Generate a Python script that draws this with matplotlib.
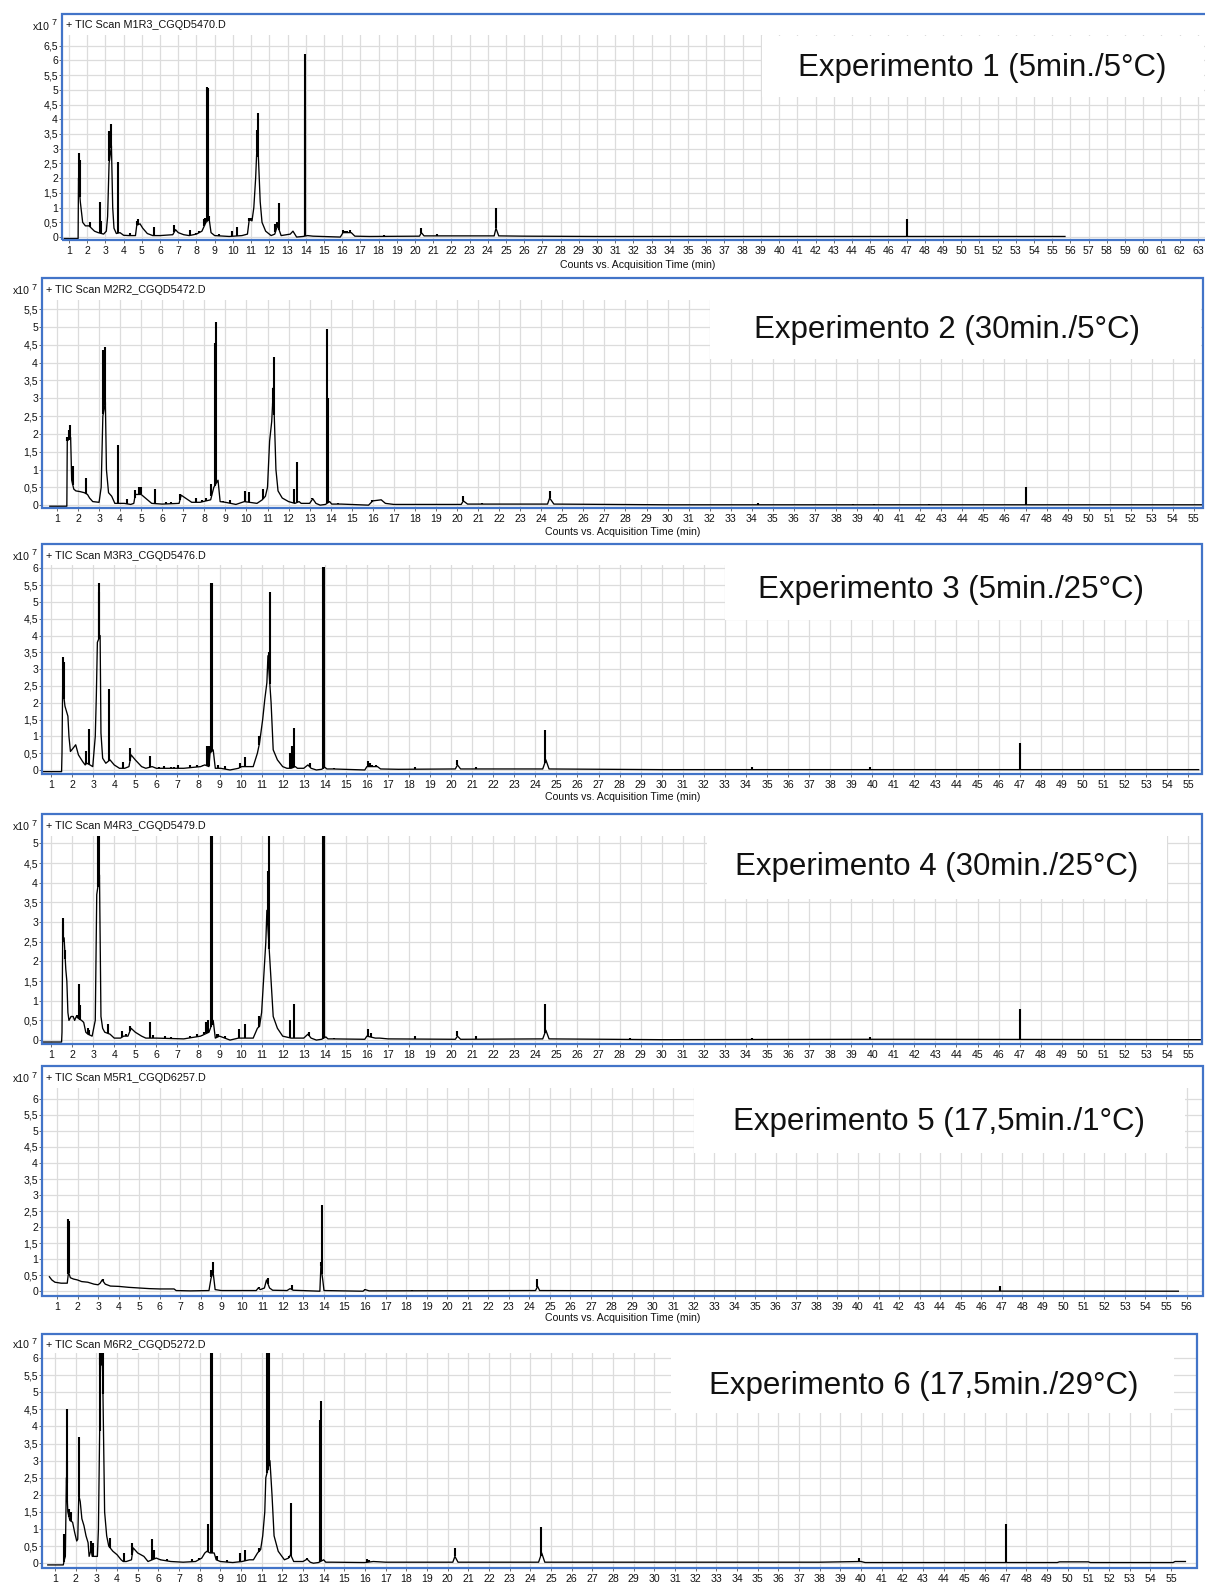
"""
Six TIC chromatograms (Experimento 1-6) stacked, instrument-report style.
"""

import numpy as np
import matplotlib.pyplot as plt
from matplotlib.patches import Rectangle

plt.rcParams['font.family'] = ['Liberation Sans', 'DejaVu Sans']

W, H = 1205, 1583

# ---------------------------------------------------------------- data
# counts in units of 1e7, time in min
scan_names = ['+ TIC Scan M1R3_CGQD5470.D', '+ TIC Scan M2R2_CGQD5472.D',
              '+ TIC Scan M3R3_CGQD5476.D', '+ TIC Scan M4R3_CGQD5479.D',
              '+ TIC Scan M5R1_CGQD6257.D', '+ TIC Scan M6R2_CGQD5272.D']
exp_labels = ['Experimento 1 (5min./5°C)', 'Experimento 2 (30min./5°C)',
              'Experimento 3 (5min./25°C)', 'Experimento 4 (30min./25°C)',
              'Experimento 5 (17,5min./1°C)', 'Experimento 6 (17,5min./29°C)']
y_tick_max = [6.5, 5.5, 6.0, 5.0, 6.0, 6.0]
x_tick_max = [63, 55, 55, 55, 56, 55]

# smooth envelope of each trace (time, counts)
profile1 = [(0.74, -0.05), (1.50, -0.05), (1.52, 2.0), (1.62, 1.2), (1.75, 0.5), (1.9, 0.38),
            (2.1, 0.38), (2.4, 0.2), (2.6, 0.15), (2.9, 0.1), (3.05, 0.2), (3.12, 0.7), (3.2, 2.5),
            (3.33, 3.1), (3.4, 1.0), (3.47, 0.3), (3.6, 0.12), (3.8, 0.15), (4.0, 0.06), (4.3, 0.05),
            (4.65, 0.05), (4.72, 0.4), (4.9, 0.45), (5.05, 0.3), (5.3, 0.12), (5.6, 0.05), (6.0, 0.05),
            (6.7, 0.08), (6.85, 0.25), (7.0, 0.15), (7.3, 0.08), (7.6, 0.05), (8.0, 0.1), (8.3, 0.2),
            (8.52, 0.5), (8.7, 0.6), (8.8, 0.15), (9.0, 0.05), (9.8, 0.02), (10.5, 0.05), (10.8, 0.1),
            (10.9, 0.6), (11.05, 0.55), (11.15, 1.0), (11.25, 2.0), (11.35, 3.5), (11.5, 1.2),
            (11.6, 0.5), (11.8, 0.2), (12.1, 0.05), (12.3, 0.1), (12.45, 0.4), (12.65, 0.05),
            (13.15, 0.1), (13.3, 0.2), (13.5, 0.0), (13.85, 0.02), (14.1, 0.05), (14.4, 0.03),
            (15.9, 0.0), (16.05, 0.15), (16.5, 0.15), (16.7, 0.03), (17.5, 0.02), (20.25, 0.03),
            (20.35, 0.15), (20.5, 0.04), (24.35, 0.04), (24.45, 0.3), (24.6, 0.04), (26.0, 0.03),
            (30.0, 0.02), (40.0, 0.02), (55.7, 0.02)]
spikes1 = [(1.53, 2.85), (1.6, 2.6), (2.15, 0.5), (2.7, 1.2), (2.76, 0.55), (3.22, 3.6),
           (3.31, 3.85), (3.71, 2.55), (4.33, 0.15), (4.74, 0.55), (4.81, 0.6), (5.69, 0.35),
           (6.2, 0.07), (6.4, 0.07), (6.79, 0.42), (7.65, 0.25), (7.95, 0.15), (8.15, 0.2),
           (8.42, 0.62), (8.49, 0.65), (8.6, 5.1), (8.64, 5.05), (8.68, 0.7), (9.25, 0.1),
           (9.95, 0.2), (10.25, 0.35), (10.89, 0.65), (10.97, 0.65), (11.31, 3.65), (11.4, 4.2),
           (12.34, 0.45), (12.42, 0.5), (12.54, 1.15), (13.28, 0.18), (13.95, 6.2), (13.98, 4.3),
           (14.4, 0.05), (16.05, 0.25), (16.15, 0.2), (16.25, 0.22), (16.45, 0.25), (17.9, 0.05),
           (18.3, 0.07), (20.35, 0.3), (21.2, 0.1), (22.8, 0.04), (24.45, 1.0), (28.5, 0.03),
           (34.4, 0.05), (39.9, 0.05), (42.3, 0.05), (45.0, 0.03), (45.5, 0.05), (47.0, 0.6),
           (48.7, 0.03)]

profile2 = [(0.66, -0.03), (1.47, -0.03), (1.49, 1.8), (1.65, 1.9), (1.7, 0.7), (1.8, 0.45),
            (1.9, 0.4), (2.1, 0.38), (2.3, 0.35), (2.45, 0.3), (2.55, 0.2), (2.7, 0.1), (3.0, 0.08),
            (3.1, 0.5), (3.18, 2.5), (3.3, 2.9), (3.35, 1.0), (3.45, 0.35), (3.6, 0.25), (3.75, 0.05),
            (4.2, 0.05), (4.5, 0.02), (4.65, 0.05), (4.72, 0.3), (5.0, 0.3), (5.2, 0.2), (5.5, 0.05),
            (6.0, 0.03), (6.8, 0.05), (6.9, 0.28), (7.1, 0.2), (7.4, 0.08), (7.8, 0.08), (8.3, 0.15),
            (8.45, 0.5), (8.65, 0.7), (8.75, 0.1), (9.0, 0.08), (9.5, 0.02), (9.9, 0.1), (10.5, 0.05),
            (10.75, 0.15), (10.9, 0.25), (11.0, 0.5), (11.1, 1.8), (11.2, 2.35), (11.28, 3.3),
            (11.4, 1.0), (11.5, 0.4), (11.7, 0.2), (12.0, 0.1), (12.3, 0.05), (12.5, 0.1),
            (12.6, 0.05), (13.0, 0.05), (13.15, 0.18), (13.3, 0.05), (13.5, 0.0), (13.75, 0.02),
            (13.95, 0.1), (14.05, 0.03), (14.5, 0.03), (15.8, 0.0), (16.0, 0.12), (16.4, 0.15),
            (16.6, 0.05), (17.0, 0.02), (20.2, 0.02), (20.3, 0.12), (20.5, 0.03), (24.3, 0.03),
            (24.4, 0.2), (24.6, 0.03), (30.0, 0.01), (55.4, 0.01)]
spikes2 = [(1.5, 1.9), (1.55, 2.1), (1.6, 2.25), (1.75, 1.1), (2.38, 0.75), (3.2, 4.35),
           (3.27, 4.45), (3.88, 1.68), (4.33, 0.18), (4.69, 0.42), (4.89, 0.5), (4.97, 0.5),
           (5.64, 0.45), (6.2, 0.08), (6.4, 0.08), (6.84, 0.32), (7.59, 0.2), (7.9, 0.15),
           (8.06, 0.2), (8.34, 0.6), (8.5, 4.55), (8.56, 5.15), (8.9, 0.12), (9.2, 0.15),
           (9.91, 0.4), (10.13, 0.37), (10.8, 0.45), (11.24, 3.3), (11.32, 4.15), (12.25, 0.45),
           (12.4, 1.2), (13.13, 0.2), (13.82, 4.95), (13.86, 3.0), (14.35, 0.05), (15.95, 0.15),
           (16.1, 0.15), (16.3, 0.15), (20.3, 0.25), (21.2, 0.05), (22.7, 0.03), (24.4, 0.4),
           (34.3, 0.05), (38.8, 0.03), (39.8, 0.03), (42.4, 0.03), (47.0, 0.5)]

profile3 = [(0.62, -0.05), (1.5, -0.05), (1.52, 0.5), (1.55, 2.5), (1.66, 1.9), (1.8, 1.6),
            (1.85, 1.0), (1.92, 0.55), (2.05, 0.65), (2.17, 0.75), (2.3, 0.45), (2.5, 0.25),
            (2.62, 0.15), (2.7, 0.2), (2.85, 0.15), (2.98, 0.1), (3.1, 1.0), (3.15, 2.2), (3.2, 3.8),
            (3.33, 4.0), (3.37, 1.1), (3.45, 0.35), (3.6, 0.2), (3.8, 0.3), (4.0, 0.15), (4.25, 0.05),
            (4.5, 0.05), (4.7, 0.1), (4.8, 0.45), (5.0, 0.3), (5.3, 0.1), (5.5, 0.05), (5.8, 0.1),
            (6.0, 0.05), (7.3, 0.05), (8.1, 0.1), (8.3, 0.15), (8.5, 0.1), (8.55, 0.5), (8.7, 0.6),
            (8.8, 0.05), (9.05, 0.05), (9.5, 0.0), (9.9, 0.05), (10.05, 0.1), (10.4, 0.1),
            (10.6, 0.1), (10.8, 0.5), (10.9, 0.8), (11.05, 1.5), (11.15, 2.1), (11.25, 2.6),
            (11.3, 3.4), (11.45, 2.0), (11.55, 0.6), (11.75, 0.3), (12.0, 0.1), (12.2, 0.05),
            (12.4, 0.05), (12.6, 0.1), (12.7, 0.05), (13.0, 0.05), (13.2, 0.15), (13.35, 0.05),
            (13.6, 0.0), (13.85, 0.02), (14.0, 0.08), (14.1, 0.03), (14.4, 0.03), (15.9, 0.0),
            (16.0, 0.1), (16.5, 0.1), (16.65, 0.03), (17.5, 0.02), (20.2, 0.03), (20.3, 0.15),
            (20.45, 0.03), (24.35, 0.03), (24.5, 0.3), (24.65, 0.03), (30.0, 0.01), (55.5, 0.01)]
spikes3 = [(1.55, 3.35), (1.62, 3.2), (2.66, 0.55), (2.79, 1.22), (3.26, 5.3), (3.29, 5.55),
           (3.74, 2.4), (4.4, 0.25), (4.75, 0.65), (5.7, 0.42), (6.15, 0.1), (6.38, 0.12),
           (6.7, 0.1), (6.85, 0.1), (7.02, 0.15), (7.62, 0.15), (7.92, 0.15), (8.2, 0.15),
           (8.42, 0.7), (8.48, 0.7), (8.6, 5.55), (8.63, 5.55), (8.92, 0.15), (9.28, 0.12),
           (9.96, 0.2), (10.2, 0.4), (10.88, 1.0), (11.34, 3.5), (11.39, 5.3), (12.34, 0.5),
           (12.46, 0.7), (12.53, 1.25), (13.28, 0.2), (13.9, 6.05), (13.94, 6.05), (14.45, 0.05),
           (16.05, 0.27), (16.15, 0.2), (16.25, 0.15), (16.45, 0.15), (18.3, 0.1), (20.3, 0.3),
           (21.2, 0.1), (24.45, 1.2), (28.5, 0.03), (34.3, 0.08), (39.9, 0.1), (42.3, 0.03),
           (47.0, 0.8), (48.8, 0.03)]

profile4 = [(0.62, -0.05), (1.5, -0.05), (1.52, 0.2), (1.55, 2.5), (1.62, 2.6), (1.7, 1.8),
            (1.75, 1.5), (1.8, 0.7), (1.85, 0.5), (1.95, 0.6), (2.05, 0.6), (2.12, 0.5), (2.2, 0.6),
            (2.3, 0.55), (2.45, 0.5), (2.55, 0.45), (2.65, 0.2), (2.75, 0.15), (2.95, 0.1),
            (3.1, 0.5), (3.17, 3.7), (3.3, 4.2), (3.37, 0.6), (3.45, 0.3), (3.55, 0.2), (3.8, 0.15),
            (4.0, 0.05), (4.3, 0.05), (4.45, 0.1), (4.65, 0.1), (4.8, 0.3), (5.0, 0.2), (5.3, 0.1),
            (5.5, 0.05), (6.0, 0.05), (7.3, 0.03), (8.1, 0.1), (8.3, 0.15), (8.5, 0.2), (8.7, 0.5),
            (8.8, 0.05), (9.0, 0.1), (9.5, 0.0), (9.9, 0.05), (10.05, 0.05), (10.6, 0.05),
            (10.8, 0.3), (10.9, 0.35), (11.0, 0.7), (11.1, 1.6), (11.2, 2.5), (11.25, 3.3),
            (11.45, 1.5), (11.55, 0.6), (11.75, 0.3), (12.0, 0.1), (12.4, 0.05), (12.65, 0.05),
            (13.0, 0.05), (13.2, 0.15), (13.35, 0.05), (13.6, 0.0), (13.85, 0.02), (14.05, 0.08),
            (14.15, 0.03), (14.4, 0.03), (15.9, 0.02), (16.0, 0.1), (16.4, 0.05), (16.6, 0.05),
            (17.0, 0.03), (20.2, 0.02), (20.3, 0.1), (20.45, 0.02), (24.35, 0.03), (24.5, 0.25),
            (24.65, 0.03), (30.0, 0.01), (40.0, 0.02), (41.5, 0.02), (55.6, 0.01)]
spikes4 = [(1.55, 2.95), (1.58, 3.1), (1.65, 2.05), (2.25, 0.65), (2.33, 1.42), (2.39, 0.9),
           (2.77, 0.3), (2.82, 0.25), (3.22, 5.8), (3.27, 5.8), (3.69, 0.4), (4.37, 0.22),
           (4.55, 0.15), (4.75, 0.35), (5.7, 0.47), (5.85, 0.12), (6.4, 0.1), (6.7, 0.08),
           (7.6, 0.1), (7.92, 0.15), (8.15, 0.12), (8.28, 0.2), (8.38, 0.45), (8.46, 0.5),
           (8.59, 5.8), (8.63, 5.8), (8.9, 0.15), (8.95, 0.15), (9.28, 0.1), (9.93, 0.28),
           (10.2, 0.4), (10.88, 0.6), (11.28, 4.3), (11.36, 5.8), (12.34, 0.52), (12.54, 0.93),
           (13.27, 0.2), (13.9, 5.8), (13.94, 5.8), (14.45, 0.05), (16.05, 0.28), (16.2, 0.18),
           (18.3, 0.1), (20.3, 0.23), (21.2, 0.1), (24.45, 0.93), (26.9, 0.03), (28.5, 0.05),
           (34.3, 0.05), (39.9, 0.08), (42.3, 0.03), (47.0, 0.8), (48.8, 0.03)]

profile5 = [(0.63, 0.45), (0.75, 0.35), (0.9, 0.28), (1.2, 0.25), (1.5, 0.25), (1.56, 0.6),
            (1.65, 0.42), (1.8, 0.38), (2.0, 0.35), (2.2, 0.3), (2.5, 0.28), (2.8, 0.22), (3.0, 0.2),
            (3.1, 0.25), (3.2, 0.35), (3.35, 0.22), (3.6, 0.16), (4.0, 0.15), (4.5, 0.12), (5.0, 0.1),
            (5.5, 0.08), (6.0, 0.07), (6.7, 0.07), (6.8, 0.02), (7.5, 0.01), (8.4, 0.02), (8.5, 0.4),
            (8.6, 0.6), (8.7, 0.05), (9.0, 0.02), (10.7, 0.02), (10.8, 0.1), (10.9, 0.05),
            (11.1, 0.1), (11.2, 0.35), (11.35, 0.1), (11.5, 0.03), (12.2, 0.02), (12.35, 0.08),
            (12.5, 0.03), (13.8, 0.0), (13.85, 0.8), (13.95, 0.3), (14.0, 0.02), (15.9, 0.0),
            (16.0, 0.05), (16.2, 0.01), (24.3, 0.02), (24.4, 0.15), (24.5, 0.02), (30.0, 0.01),
            (55.6, 0.0)]
spikes5 = [(1.55, 2.25), (1.58, 2.2), (3.22, 0.37), (8.52, 0.65), (8.58, 0.9), (9.9, 0.05),
           (10.2, 0.04), (10.82, 0.12), (11.2, 0.35), (11.27, 0.4), (12.45, 0.2), (13.85, 0.9),
           (13.9, 2.7), (16.0, 0.06), (18.3, 0.03), (24.38, 0.38), (27.5, 0.02), (28.5, 0.02),
           (40.0, 0.02), (46.9, 0.15)]

profile6 = [(0.65, -0.05), (1.4, -0.05), (1.45, 0.1), (1.5, 0.2), (1.55, 2.5), (1.62, 1.5),
            (1.72, 1.25), (1.85, 1.2), (1.95, 0.9), (2.05, 0.65), (2.1, 0.7), (2.15, 2.0),
            (2.22, 1.8), (2.3, 1.3), (2.4, 1.1), (2.5, 0.8), (2.6, 0.6), (2.65, 0.2), (2.75, 0.4),
            (2.8, 0.2), (2.95, 0.2), (3.05, 0.2), (3.1, 1.0), (3.2, 5.8), (3.3, 5.8), (3.4, 1.5),
            (3.5, 0.8), (3.6, 0.5), (3.8, 0.35), (4.0, 0.25), (4.2, 0.1), (4.3, 0.05), (4.45, 0.05),
            (4.7, 0.1), (4.78, 0.45), (5.0, 0.3), (5.15, 0.25), (5.3, 0.2), (5.5, 0.05), (5.9, 0.15),
            (6.1, 0.1), (6.6, 0.05), (7.2, 0.03), (7.8, 0.05), (8.1, 0.15), (8.25, 0.3),
            (8.35, 0.35), (8.5, 0.3), (8.7, 0.3), (8.8, 0.1), (9.0, 0.05), (9.6, 0.02), (10.05, 0.05),
            (10.4, 0.1), (10.6, 0.1), (10.8, 0.3), (10.95, 0.4), (11.05, 0.8), (11.15, 1.5),
            (11.2, 2.5), (11.4, 3.0), (11.5, 2.0), (11.6, 0.8), (11.8, 0.35), (12.1, 0.1),
            (12.3, 0.15), (12.4, 0.25), (12.55, 0.05), (13.0, 0.05), (13.2, 0.12), (13.35, 0.03),
            (13.5, 0.0), (13.75, 0.02), (14.0, 0.1), (14.1, 0.03), (14.4, 0.03), (16.0, 0.02),
            (16.4, 0.05), (17.0, 0.03), (20.25, 0.03), (20.35, 0.2), (20.5, 0.03), (24.4, 0.03),
            (24.55, 0.3), (24.7, 0.03), (28.0, 0.03), (38.0, 0.03), (40.0, 0.05), (40.2, 0.02),
            (49.5, 0.02), (49.6, 0.04), (51.0, 0.04), (51.1, 0.02), (55.1, 0.02), (55.2, 0.05),
            (55.7, 0.05)]
spikes6 = [(1.43, 0.85), (1.56, 4.5), (1.6, 3.0), (1.68, 1.6), (1.75, 1.5), (2.17, 3.7),
           (2.72, 0.65), (2.85, 0.6), (3.16, 6.5), (3.2, 6.5), (3.28, 6.5), (3.32, 6.5),
           (3.68, 0.75), (4.33, 0.3), (4.73, 0.6), (5.67, 0.72), (5.8, 0.4), (6.1, 0.12),
           (6.4, 0.12), (7.65, 0.12), (7.95, 0.15), (8.39, 1.15), (8.57, 6.5), (8.6, 6.5),
           (8.75, 0.2), (8.82, 0.2), (9.3, 0.1), (9.93, 0.3), (10.18, 0.4), (10.85, 0.45),
           (11.25, 6.5), (11.29, 6.5), (11.34, 6.5), (12.3, 0.2), (12.44, 1.75), (13.2, 0.15),
           (13.82, 4.2), (13.86, 4.75), (14.45, 0.05), (16.1, 0.12), (16.2, 0.1), (20.35, 0.45),
           (24.5, 1.05), (27.5, 0.03), (28.5, 0.03), (39.9, 0.15), (42.3, 0.05), (44.5, 0.03),
           (45.0, 0.03), (45.5, 0.03), (46.9, 0.03), (47.0, 1.14), (48.8, 0.03), (55.2, 0.05)]

profiles = [profile1, profile2, profile3, profile4, profile5, profile6]
spikes = [spikes1, spikes2, spikes3, spikes4, spikes5, spikes6]

# ---------------------------------------------------------------- layout (pixels)
# box_left, box_top, axes_top, axes_bottom, box_right, xlim, ylim, xlabel_y
layout = [
    (62, 14, 35, 240, 1207, (0.615, 63.5), (-0.10, 6.86), 265),
    (42, 278, 300, 508, 1203, (0.29, 55.43), (-0.08, 5.76), 532),
    (42, 544, 565, 774, 1202, (0.57, 55.66), (-0.12, 6.10), 797),
    (42, 814, 836, 1044, 1202, (0.57, 55.66), (-0.10, 5.19), None),
    (42, 1066, 1088, 1296, 1203, (0.27, 56.8), (-0.15, 6.34), 1318),
    (42, 1334, 1353, 1568, 1197, (0.37, 56.26), (-0.14, 6.15), None),
]
# white box behind the experiment label, and the label centre
label_boxes = [(762, 36, 1204, 97), (710, 300, 1201, 359), (725, 565, 1201, 620),
               (707, 836, 1167, 899), (694, 1088, 1185, 1153), (671, 1353, 1174, 1413)]
label_pos = [(982, 68), (947, 330), (951, 590), (937, 867), (939, 1122), (924, 1386)]

BLUE = '#4274c8'
GRID = '#dcdcdc'


def fx(px):
    return px / W


def fy(py):
    return 1 - py / H


fig = plt.figure(figsize=(W / 100, H / 100), dpi=100)

for i in range(6):
    bl, bt, at, ab, br, xl, yl, xlab_y = layout[i]
    ax = fig.add_axes([fx(bl), fy(ab), (br - bl) / W, (ab - at) / H])
    ax.set_xlim(*xl)
    ax.set_ylim(*yl)
    ax.set_axisbelow(True)

    xt = np.arange(1, x_tick_max[i] + 1)
    yt = np.arange(0, y_tick_max[i] + 0.01, 0.5)
    ax.set_xticks(xt)
    ax.set_xticklabels([str(v) for v in xt])
    ax.set_yticks(yt)
    ax.set_yticklabels([f'{v:g}'.replace('.', ',') for v in yt])
    ax.grid(True, color=GRID, linewidth=0.9)
    ax.tick_params(axis='x', length=2.5, width=0.6, pad=2.0, labelsize=7.6,
                   color='#555555', labelcolor='#111111')
    ax.tick_params(axis='y', length=2.0, width=0.6, pad=0.8, labelsize=7.6,
                   color='#555555', labelcolor='#111111')
    for s in ax.spines.values():
        s.set_visible(False)

    # white panel behind the experiment name
    x0, y0, x1, y1 = label_boxes[i]
    ax.add_patch(Rectangle((fx(x0), fy(y1)), (x1 - x0) / W, (y1 - y0) / H,
                           transform=fig.transFigure, facecolor='white',
                           edgecolor='none', zorder=1))

    # trace
    prof = np.array(profiles[i])
    sp = np.array(spikes[i])
    ax.plot(prof[:, 0], prof[:, 1], color='black', linewidth=0.95, zorder=3)
    base = np.interp(sp[:, 0], prof[:, 0], prof[:, 1])
    ax.vlines(sp[:, 0], base, sp[:, 1], colors='black', linewidth=1.5, zorder=3)

    # blue frame around title strip and plot
    fig.patches.append(Rectangle((fx(bl), fy(ab)), (br - bl) / W, (ab - bt) / H,
                                 transform=fig.transFigure, facecolor='none',
                                 edgecolor=BLUE, linewidth=1.6, zorder=5))

    ty = (bt + at) / 2 + 1
    fig.text(fx(bl + 4), fy(ty), scan_names[i], fontsize=7.8, ha='left', va='center',
             color='#111111')
    fig.text(fx(bl - 12), fy(ty + 1), 'x10', fontsize=7.6, ha='right', va='center',
             color='#111111')
    fig.text(fx(bl - 10), fy(ty - 3), '7', fontsize=6.5, ha='left', va='center',
             color='#111111')

    if xlab_y is not None:
        fig.text(fx(623 if i else 638), fy(xlab_y), 'Counts vs. Acquisition Time (min)',
                 fontsize=7.6, ha='center', va='center', color='#111111')

    cx, cy = label_pos[i]
    fig.text(fx(cx), fy(cy), exp_labels[i], fontsize=22.5, ha='center', va='center',
             color='#111111', zorder=6)

fig.savefig('out.png', dpi=100, facecolor='white')
